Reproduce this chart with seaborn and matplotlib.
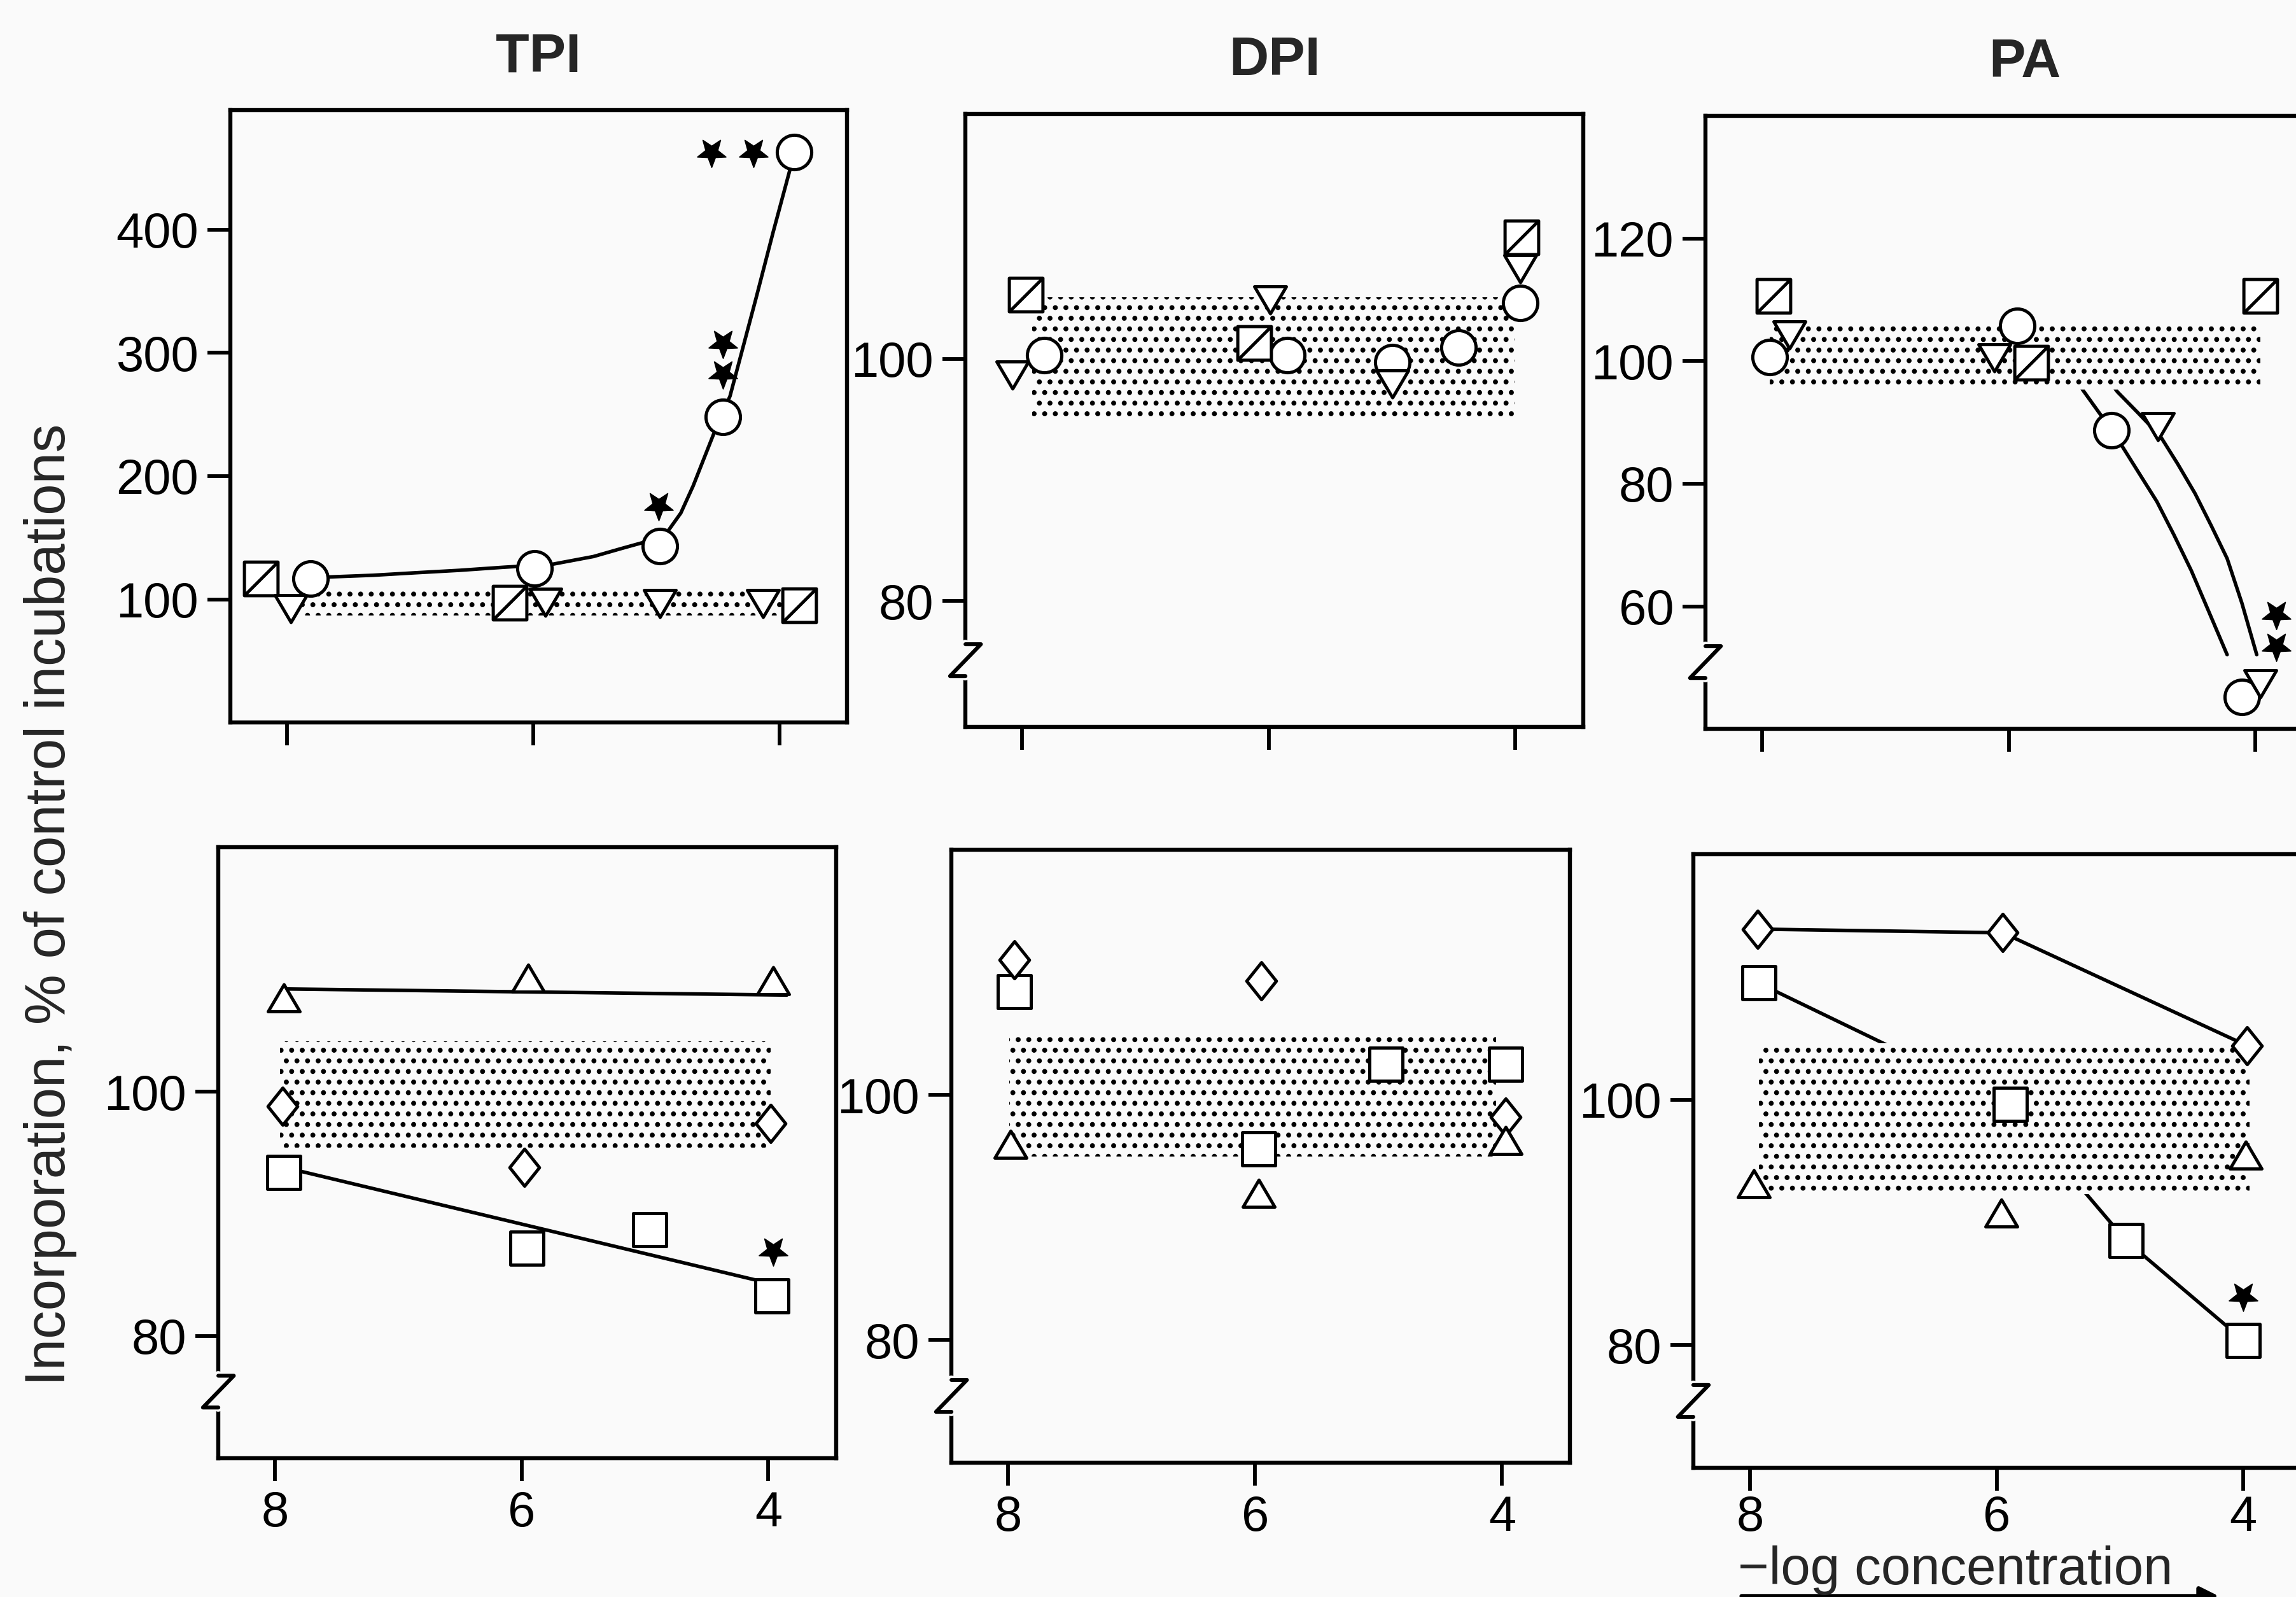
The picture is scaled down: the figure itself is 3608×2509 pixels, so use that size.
import numpy as np
import seaborn as sns
import matplotlib.pyplot as plt
from matplotlib.path import Path
from matplotlib.patches import FancyArrowPatch

# ---- data (x = -log concentration, y = % of control) ----
# TPI, upper panel
tpi_circle_x = [7.81, 5.99, 4.97, 4.46, 3.88]
tpi_circle_y = [117, 125, 143, 248, 463]
tpi_hsq_x = [8.21, 6.19, 3.84]
tpi_hsq_y = [117, 97, 95]
tpi_tri_x = [7.97, 5.90, 4.97, 4.13]
tpi_tri_y = [93, 98, 97, 97]
tpi_star_x = [4.55, 4.21, 4.46, 4.46, 4.98]
tpi_star_y = [463, 463, 308, 283, 176]
tpi_fit_x = [7.69, 7.3, 6.96, 6.6, 6.24, 5.99, 5.84, 5.51, 5.29, 5.11, 4.97,
             4.90, 4.80, 4.70, 4.53, 4.40, 4.19, 4.05, 3.91]
tpi_fit_y = [118, 119.5, 121.5, 123.5, 126, 127.5, 128.5, 134.7, 141, 146, 152,
             156, 170, 192, 235, 265, 344, 398, 450]
tpi_band = ([7.88, 3.89], 87, 108)

# DPI, upper panel
dpi_circle_x = [7.82, 5.85, 5.0, 4.46, 3.96]
dpi_circle_y = [100.3, 100.3, 99.7, 100.9, 104.6]
dpi_hsq_x = [7.97, 6.12, 3.95]
dpi_hsq_y = [105.3, 101.3, 110.0]
dpi_tri_x = [8.08, 5.99, 5.0, 3.96]
dpi_tri_y = [98.7, 104.9, 98.0, 107.5]
dpi_band = ([7.92, 4.01], 95.1, 105.1)

# PA, upper panel
pa_circle_x = [7.94, 5.93, 5.17, 4.11]
pa_circle_y = [100.7, 105.7, 88.7, 45.2]
pa_hsq_x = [7.91, 5.82, 3.96]
pa_hsq_y = [110.6, 99.7, 110.6]
pa_tri_x = [7.78, 6.12, 4.79, 3.96]
pa_tri_y = [104.4, 100.7, 89.4, 47.5]
pa_star_x = [3.83, 3.83]
pa_star_y = [58.7, 53.5]
pa_fit1_x = [5.6, 5.39, 5.24, 5.09, 4.95, 4.80, 4.66, 4.52, 4.38, 4.23]
pa_fit1_y = [101, 95.0, 90.8, 86.4, 81.9, 77.1, 71.6, 65.8, 59.2, 52.1]
pa_fit2_x = [5.35, 5.12, 4.95, 4.77, 4.63, 4.49, 4.36, 4.23, 4.11, 3.99]
pa_fit2_y = [101, 95.0, 91.5, 87.7, 83.2, 78.4, 73.2, 67.8, 60.5, 52.1]
pa_band = ([7.94, 3.96], 95.4, 106)

# TPI, lower panel
tpib_tri_x = [7.93, 5.95, 3.96]
tpib_tri_y = [107.6, 109.2, 109.0]
tpib_dia_x = [7.94, 5.98, 3.98]
tpib_dia_y = [98.8, 93.8, 97.4]
tpib_sq_x = [7.93, 5.96, 4.96, 3.97]
tpib_sq_y = [93.4, 87.2, 88.7, 83.3]
tpib_star_x = [3.96]
tpib_star_y = [87.0]
tpib_trifit_x = [7.91, 3.85]
tpib_trifit_y = [108.4, 107.9]
tpib_sqfit_x = [7.80, 4.11]
tpib_sqfit_y = [93.5, 84.6]
tpib_band = ([7.96, 3.98], 95.4, 104.1)

# DPI, lower panel
dpib_dia_x = [7.95, 5.95, 3.97]
dpib_dia_y = [111.0, 109.3, 98.2]
dpib_sq_x = [7.95, 5.97, 4.94, 3.97]
dpib_sq_y = [108.4, 95.6, 102.5, 102.5]
dpib_tri_x = [7.98, 5.97, 3.97]
dpib_tri_y = [95.9, 91.9, 96.2]
dpib_band = ([7.99, 4.05], 95.0, 105.1)

# PA, lower panel
pab_dia_x = [7.94, 5.95, 3.97]
pab_dia_y = [113.9, 113.6, 104.4]
pab_sq_x = [7.93, 5.89, 4.95, 4.0]
pab_sq_y = [109.5, 99.6, 88.5, 80.4]
pab_tri_x = [7.97, 5.96, 3.98]
pab_tri_y = [93.1, 90.7, 95.4]
pab_star_x = [4.0]
pab_star_y = [84.0]
pab_band = ([7.93, 3.95], 92.3, 104.6)

titles = ["TPI", "DPI", "PA"]
xticks = [8, 6, 4]
yticks_top = [[100, 200, 300, 400], [80, 100], [60, 80, 100, 120]]
yticks_bot = [80, 100]

# ---- style ----
sns.set_theme(style="ticks")
plt.rcParams["font.family"] = ["Liberation Sans", "DejaVu Sans"]
plt.rcParams["hatch.linewidth"] = 1.6
bg = "#fafafa"

# marker shapes
sq_hatch = Path([(-1, -1), (1, -1), (1, 1), (-1, 1), (-1, -1), (-1, -1), (1, 1)],
                [Path.MOVETO, Path.LINETO, Path.LINETO, Path.LINETO, Path.CLOSEPOLY,
                 Path.MOVETO, Path.LINETO])
tri_up = Path([(-1, -0.8), (1, -0.8), (0, 0.9), (-1, -0.8)],
              [Path.MOVETO, Path.LINETO, Path.LINETO, Path.CLOSEPOLY])
tri_dn = Path([(-1, 0.8), (1, 0.8), (0, -0.9), (-1, 0.8)],
              [Path.MOVETO, Path.LINETO, Path.LINETO, Path.CLOSEPOLY])
diamond = Path([(0, 1), (0.8, 0), (0, -1), (-0.8, 0), (0, 1)],
               [Path.MOVETO, Path.LINETO, Path.LINETO, Path.LINETO, Path.CLOSEPOLY])
st = Path.unit_regular_star(5, 0.42)
star_dn = Path(st.vertices * np.array([1, -1]), st.codes)


def pts(ax, x, y, marker, size, z=4):
    sns.scatterplot(x=x, y=y, marker=marker, s=size ** 2, color="white",
                    edgecolor="black", linewidth=1.8, zorder=z, ax=ax, legend=False)


def stars(ax, x, y):
    sns.scatterplot(x=x, y=y, marker=star_dn, s=17 ** 2, color="black",
                    edgecolor="black", linewidth=0.6, zorder=5, ax=ax, legend=False)


def line(ax, x, y):
    sns.lineplot(x=x, y=y, sort=False, estimator=None, color="black", lw=2.0,
                 zorder=1, ax=ax, legend=False)


def band(ax, b):
    bx, lo, hi = b
    ax.fill_between(bx, [lo, lo], [hi, hi], facecolor=bg, edgecolor="black",
                    hatch="..", linewidth=0, zorder=2)


def axis_break(ax, y0=0.083, y1=0.135):
    ax.plot([0, 0], [y0, y1], transform=ax.transAxes, color=bg, lw=5,
            clip_on=False, zorder=6)
    ax.plot([0, 0.025, -0.025, 0], [y1, y1, y0, y0], transform=ax.transAxes,
            color="black", lw=2.2, clip_on=False, zorder=7)


fig = plt.figure(figsize=(18.04, 12.545), dpi=200, facecolor=bg)

# axes boxes in figure fractions: [left, bottom, width, height]
boxes = [[0.1003, 0.5476, 0.2686, 0.3834], [0.4205, 0.5448, 0.2691, 0.3838],
         [0.7428, 0.5436, 0.2691, 0.3838], [0.0951, 0.0869, 0.2691, 0.3826],
         [0.4144, 0.0841, 0.2694, 0.3838], [0.7375, 0.0809, 0.2691, 0.3842]]
ylims = [(0, 497), (69.6, 120.2), (40, 140), (70, 120), (70, 120), (70, 120)]

axes = []
for i, b in enumerate(boxes):
    ax = fig.add_axes(b, facecolor=bg)
    ax.set_xlim(8.46, 3.45)
    ax.set_ylim(*ylims[i])
    ax.set_xticks(xticks)
    ax.set_yticks(yticks_top[i] if i < 3 else yticks_bot)
    for s in ax.spines.values():
        s.set_visible(True)
        s.set_linewidth(2.3)
        s.set_color("black")
    ax.tick_params(direction="out", length=13, width=2.1, labelsize=28, pad=5,
                   colors="black", top=False, right=False, labelbottom=(i >= 3))
    axes.append(ax)
# last panel: x labels sit a bit tighter so the axis title fits below
axes[5].tick_params(axis="x", pad=2)

ax = axes[0]
band(ax, tpi_band)
line(ax, tpi_fit_x, tpi_fit_y)
pts(ax, tpi_hsq_x, tpi_hsq_y, sq_hatch, 19)
pts(ax, tpi_tri_x, tpi_tri_y, tri_dn, 18)
pts(ax, tpi_circle_x, tpi_circle_y, "o", 19.5)
stars(ax, tpi_star_x, tpi_star_y)

ax = axes[1]
band(ax, dpi_band)
pts(ax, dpi_circle_x, dpi_circle_y, "o", 19.5)
pts(ax, dpi_tri_x, dpi_tri_y, tri_dn, 18)
pts(ax, dpi_hsq_x, dpi_hsq_y, sq_hatch, 19)

ax = axes[2]
band(ax, pa_band)
line(ax, pa_fit1_x, pa_fit1_y)
line(ax, pa_fit2_x, pa_fit2_y)
pts(ax, pa_circle_x, pa_circle_y, "o", 19.5)
pts(ax, pa_tri_x, pa_tri_y, tri_dn, 18)
pts(ax, pa_hsq_x, pa_hsq_y, sq_hatch, 19)
stars(ax, pa_star_x, pa_star_y)

ax = axes[3]
band(ax, tpib_band)
line(ax, tpib_trifit_x, tpib_trifit_y)
line(ax, tpib_sqfit_x, tpib_sqfit_y)
pts(ax, tpib_tri_x, tpib_tri_y, tri_up, 18)
pts(ax, tpib_dia_x, tpib_dia_y, diamond, 21)
pts(ax, tpib_sq_x, tpib_sq_y, "s", 19)
stars(ax, tpib_star_x, tpib_star_y)

ax = axes[4]
band(ax, dpib_band)
pts(ax, dpib_sq_x, dpib_sq_y, "s", 19)
pts(ax, dpib_dia_x, dpib_dia_y, diamond, 21)
pts(ax, dpib_tri_x, dpib_tri_y, tri_up, 18)

ax = axes[5]
band(ax, pab_band)
line(ax, pab_dia_x, pab_dia_y)
line(ax, pab_sq_x, pab_sq_y)
pts(ax, pab_dia_x, pab_dia_y, diamond, 21)
pts(ax, pab_sq_x, pab_sq_y, "s", 19)
pts(ax, pab_tri_x, pab_tri_y, tri_up, 18)
stars(ax, pab_star_x, pab_star_y)

for i, ax in enumerate(axes):
    ax.set_xlabel("")
    ax.set_ylabel("")
    if i > 0:
        axis_break(ax)
    if i < 3:
        ax.set_title(titles[i], fontsize=31, fontweight="bold", pad=22,
                     x=0.517 if i == 2 else 0.5)

fig.text(0.022, 0.4336, "Incorporation, % of control incubations", rotation=90,
         ha="center", va="center", fontsize=32)
fig.text(0.757, 0.0078, "\u2212log concentration", ha="left", va="baseline", fontsize=30)
fig.add_artist(FancyArrowPatch((0.757, 0.0005), (0.968, 0.0005), transform=fig.transFigure,
                               arrowstyle="-|>", mutation_scale=22, lw=2.5, color="black"))

fig.savefig("out.png", dpi=200, facecolor=bg)
